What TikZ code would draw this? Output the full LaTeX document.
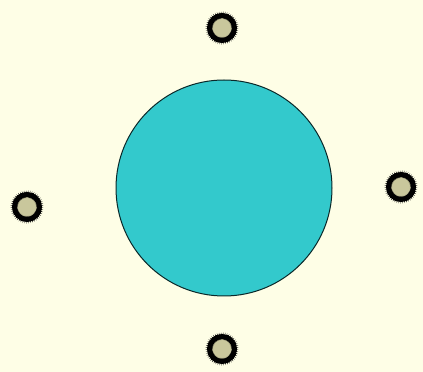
\documentclass[tikz,border=0pt]{standalone}
\usepackage{tikz}
\usetikzlibrary{decorations.pathmorphing}
\definecolor{cream}{HTML}{FEFEE6}
\definecolor{cellteal}{HTML}{33C9CC}
\definecolor{sporekhaki}{HTML}{C9C79C}

\begin{document}
\begin{tikzpicture}[x=1pt, y=1pt,
                    cell/.style = {draw=black!80!cellteal, fill=cellteal, circle, minimum size=216pt, inner sep=0pt, line width=1pt},
                    spore/.style = {draw=black, fill=sporekhaki, circle, minimum size=25pt, inner sep=0pt, line width=5pt,
                                    postaction={draw=black, line width=0.7pt, decorate,
                                                decoration={zigzag, segment length=1.6pt, amplitude=2pt}}}
                ]
                    \fill[cream] (0,0) rectangle (423,372);
                    \useasboundingbox (0,0) rectangle (423,372);

                    \node[cell] (C) at (224,184) {};
                    \node[spore] (N) at (222,344) {};
                    \node[spore] (W) at (27,165) {};
                    \node[spore] (E) at (401,185) {};
                    \node[spore] (S) at (222,23) {};
                \end{tikzpicture}
\end{document}
